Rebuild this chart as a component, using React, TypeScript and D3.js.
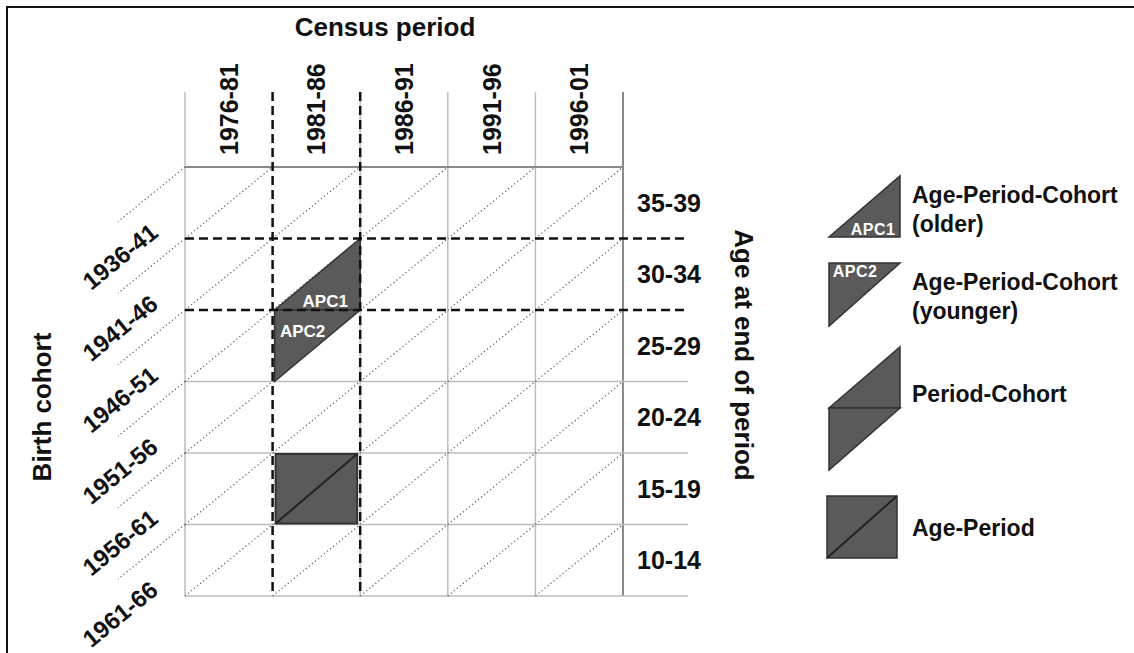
import * as d3 from "d3";
import { useEffect, useRef } from "react";

// census periods (columns), age at end of period (rows), birth cohorts (diagonals)
const periods = ["1976-81", "1981-86", "1986-91", "1991-96", "1996-01"];
const ageGroups = ["35-39", "30-34", "25-29", "20-24", "15-19", "10-14"];
const cohorts = ["1936-41", "1941-46", "1946-51", "1951-56", "1956-61", "1961-66"];

// highlighted period column and age row (dashed)
const dashedPeriods = ["1981-86"];
const dashedAges = ["30-34"];

// shaded cells
const apcCells = [
	{ id: "APC1", period: "1981-86", age: "30-34", part: "lower" },
	{ id: "APC2", period: "1981-86", age: "25-29", part: "upper" },
];
const agePeriodCells = [{ period: "1981-86", age: "15-19" }];

// legend
const legendKinds = ["apc1", "apc2", "pc", "ap"];
const legendLabels = [
	["Age-Period-Cohort", "(older)"],
	["Age-Period-Cohort", "(younger)"],
	["Period-Cohort"],
	["Age-Period"],
];

const W = 1134;
const H = 653;
const FONT = "'Liberation Sans', Arial, Helvetica, sans-serif";
const SHADE = "#5a5a5a";
const SHADE_STROKE = "#333";

export default function App() {
	const svgRef = useRef<SVGSVGElement | null>(null);

	useEffect(() => {
		const svg = d3.select(svgRef.current);
		svg.selectAll("*").remove();

		const x = d3.scaleBand().domain(periods).range([185, 623]);
		const y = d3.scaleBand().domain(ageGroups).range([167, 596]);
		const bw = x.bandwidth();
		const bh = y.bandwidth();
		const [gx0, gx1] = x.range();
		const [gy0, gy1] = y.range();
		const colTop = 92;
		const rowRight = 688;

		const dashedX = new Set<number>();
		dashedPeriods.forEach((p) => {
			dashedX.add(x(p)!);
			dashedX.add(x(p)! + bw);
		});
		const dashedY = new Set<number>();
		dashedAges.forEach((a) => {
			dashedY.add(y(a)!);
			dashedY.add(y(a)! + bh);
		});
		const xEdges = periods.map((p) => x(p)!).concat([gx1]);
		const yEdges = ageGroups.map((a) => y(a)!).concat([gy1]);

		svg.append("rect").attr("width", W).attr("height", H).attr("fill", "#fff");

		// frame (left + top)
		svg
			.append("path")
			.attr("d", `M7,${H} L7,7 L${W},7`)
			.attr("fill", "none")
			.attr("stroke", "#111")
			.attr("stroke-width", 2);

		const grid = svg.append("g");
		// vertical grid lines
		xEdges
			.filter((v) => !dashedX.has(v))
			.forEach((v) => {
				const isRight = v === gx1;
				grid
					.append("line")
					.attr("x1", v)
					.attr("x2", v)
					.attr("y1", colTop)
					.attr("y2", gy1)
					.attr("stroke", isRight ? "#8a8a8a" : "#bdbdbd")
					.attr("stroke-width", isRight ? 2 : 1.5);
			});
		// horizontal grid lines
		yEdges
			.filter((v) => !dashedY.has(v))
			.forEach((v) => {
				const isTop = v === gy0;
				grid
					.append("line")
					.attr("x1", gx0)
					.attr("x2", isTop ? gx1 : rowRight)
					.attr("y1", v)
					.attr("y2", v)
					.attr("stroke", isTop ? "#8a8a8a" : "#bdbdbd")
					.attr("stroke-width", isTop ? 2 : 1.5);
			});

		// cohort diagonals (dotted)
		const diag = svg
			.append("g")
			.attr("stroke", "#6e6e6e")
			.attr("stroke-width", 1.3)
			.attr("stroke-dasharray", "1.3,2.6");
		periods.forEach((p) => {
			ageGroups.forEach((a) => {
				diag
					.append("line")
					.attr("x1", x(p)!)
					.attr("y1", y(a)! + bh)
					.attr("x2", x(p)! + bw)
					.attr("y2", y(a)!);
			});
		});
		// extensions of the diagonals to the left of the grid
		const ext = 67;
		cohorts.forEach((_, i) => {
			diag
				.append("line")
				.attr("x1", gx0)
				.attr("y1", yEdges[i])
				.attr("x2", gx0 - ext)
				.attr("y2", yEdges[i] + (ext * bh) / bw);
		});

		// APC triangles
		apcCells.forEach((c) => {
			const x0 = x(c.period)!;
			const x1 = x0 + bw;
			const y0 = y(c.age)!;
			const y1 = y0 + bh;
			const pts: [number, number][] =
				c.part === "lower"
					? [[x0 + 2, y1], [x1, y0], [x1, y1]]
					: [[x0 + 2, y0], [x1, y0], [x0 + 2, y1]];
			svg
				.append("path")
				.attr("d", d3.line()(pts) + "Z")
				.attr("fill", SHADE)
				.attr("stroke", SHADE_STROKE)
				.attr("stroke-width", 1.5);
			svg
				.append("text")
				.attr("x", c.part === "lower" ? x1 - 35 : x0 + 30)
				.attr("y", c.part === "lower" ? y1 - 9 : y0 + 21)
				.attr("text-anchor", "middle")
				.attr("dominant-baseline", "central")
				.attr("font-family", FONT)
				.attr("font-weight", "bold")
				.attr("font-size", 17)
				.attr("fill", "#fff")
				.text(c.id);
		});

		// Age-Period square
		agePeriodCells.forEach((c) => {
			const x0 = x(c.period)! + 3;
			const x1 = x(c.period)! + bw - 3;
			const y0 = y(c.age)! + 1;
			const y1 = y(c.age)! + bh - 1;
			svg
				.append("rect")
				.attr("x", x0)
				.attr("y", y0)
				.attr("width", x1 - x0)
				.attr("height", y1 - y0)
				.attr("fill", SHADE)
				.attr("stroke", SHADE_STROKE)
				.attr("stroke-width", 2);
			svg
				.append("line")
				.attr("x1", x0)
				.attr("y1", y1)
				.attr("x2", x1)
				.attr("y2", y0)
				.attr("stroke", "#222")
				.attr("stroke-width", 2);
		});

		// dashed highlight lines
		const dash = svg
			.append("g")
			.attr("stroke", "#111")
			.attr("stroke-width", 2.5)
			.attr("stroke-dasharray", "9,5");
		dashedX.forEach((v) => {
			dash.append("line").attr("x1", v).attr("x2", v).attr("y1", colTop).attr("y2", gy1);
		});
		dashedY.forEach((v) => {
			dash.append("line").attr("x1", gx0).attr("x2", rowRight).attr("y1", v).attr("y2", v);
		});

		const txt = (g: d3.Selection<any, unknown, null, undefined>, size: number) =>
			g
				.append("text")
				.attr("font-family", FONT)
				.attr("font-weight", "bold")
				.attr("font-size", size)
				.attr("fill", "#111");

		// period labels (rotated)
		periods.forEach((p) => {
			txt(svg, 25)
				.attr("transform", `translate(${x(p)! + bw / 2},155) rotate(-90)`)
				.attr("dominant-baseline", "central")
				.text(p);
		});
		// age labels
		ageGroups.forEach((a) => {
			txt(svg, 25)
				.attr("x", 637)
				.attr("y", y(a)! + bh / 2)
				.attr("dominant-baseline", "central")
				.text(a);
		});
		// cohort labels
		const angle = (Math.atan2(bh, bw) * 180) / Math.PI;
		cohorts.forEach((c, i) => {
			txt(svg, 24)
				.attr("transform", `translate(120,${yEdges[i + 1] + 18}) rotate(${-angle})`)
				.attr("text-anchor", "middle")
				.attr("dominant-baseline", "central")
				.text(c);
		});

		// axis titles
		txt(svg, 26).attr("x", 385).attr("y", 36).attr("text-anchor", "middle").text("Census period");
		txt(svg, 26)
			.attr("transform", "translate(42,407) rotate(-90)")
			.attr("text-anchor", "middle")
			.attr("dominant-baseline", "central")
			.text("Birth cohort");
		txt(svg, 26)
			.attr("transform", "translate(744,355) rotate(90)")
			.attr("text-anchor", "middle")
			.attr("dominant-baseline", "central")
			.text("Age at end of period");

		// legend
		const lx0 = 829;
		const lx1 = 900;
		const shapes: Record<string, [number, number][][]> = {
			apc1: [[[lx0, 237], [lx1, 176], [lx1, 237]]],
			apc2: [[[lx0, 263], [lx1, 263], [lx0, 326]]],
			pc: [
				[[lx0, 408], [lx1, 347], [lx1, 408]],
				[[lx0, 408], [lx1, 408], [lx0, 470]],
			],
			ap: [[[lx0 - 2, 496], [lx1 - 3, 496], [lx1 - 3, 558], [lx0 - 2, 558]]],
		};
		const baselines: Record<string, number[]> = {
			apc1: [203, 232],
			apc2: [290, 319],
			pc: [402],
			ap: [536],
		};
		const legend = svg.append("g");
		legendKinds.forEach((k, i) => {
			shapes[k].forEach((pts) => {
				legend
					.append("path")
					.attr("d", d3.line()(pts) + "Z")
					.attr("fill", SHADE)
					.attr("stroke", SHADE_STROKE)
					.attr("stroke-width", 1.5);
			});
			if (k === "ap") {
				legend
					.append("line")
					.attr("x1", lx0 - 2)
					.attr("y1", 558)
					.attr("x2", lx1 - 3)
					.attr("y2", 496)
					.attr("stroke", "#222")
					.attr("stroke-width", 2);
			}
			legendLabels[i].forEach((line, j) => {
				txt(legend, 23).attr("x", 912).attr("y", baselines[k][j]).text(line);
			});
		});
		legend
			.append("text")
			.attr("x", 873)
			.attr("y", 229)
			.attr("text-anchor", "middle")
			.attr("dominant-baseline", "central")
			.attr("font-family", FONT)
			.attr("font-weight", "bold")
			.attr("font-size", 16)
			.attr("letter-spacing", 0.5)
			.attr("fill", "#fff")
			.text("APC1");
		legend
			.append("text")
			.attr("x", 855)
			.attr("y", 271)
			.attr("text-anchor", "middle")
			.attr("dominant-baseline", "central")
			.attr("font-family", FONT)
			.attr("font-weight", "bold")
			.attr("font-size", 16)
			.attr("letter-spacing", 0.5)
			.attr("fill", "#fff")
			.text("APC2");
	}, []);

	return (
		<svg
			ref={svgRef}
			width={W}
			height={H}
			style={{ position: "absolute", left: 0, top: 0, display: "block" }}
		/>
	);
}
